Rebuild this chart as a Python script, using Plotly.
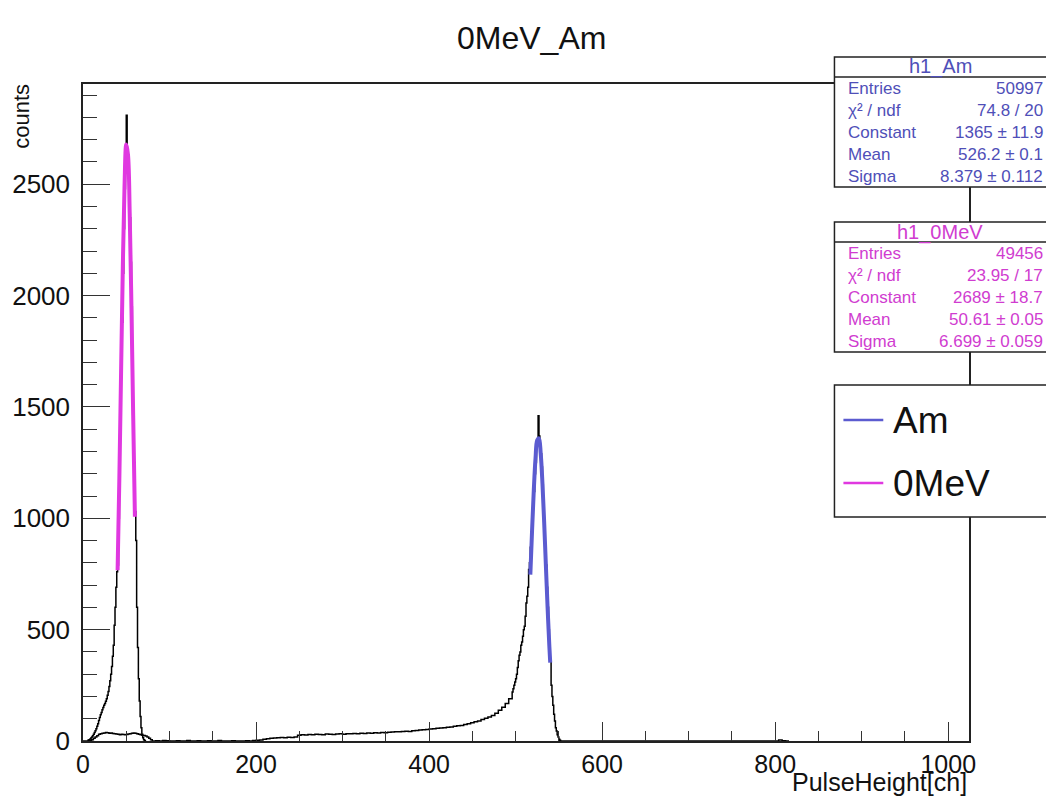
import plotly.graph_objects as go

# ---------------- data ----------------
# h1_0MeV histogram: 1-channel bins starting at channel 5
mev_start = 5
mev_width = 1
mev_counts = [2, 4, 6, 9, 13, 18, 24, 30, 38, 46, 55, 66, 78, 92, 106, 118, 128, 140,
              150, 160, 168, 178, 190, 205, 222, 245, 270, 300, 335, 380, 430, 520, 600,
              690, 760, 790, 1000, 1150, 1400, 1650, 1880, 2100, 2300, 2480, 2620, 2810,
              2650, 2600, 2480, 2350, 2150, 1950, 1700, 1450, 1250, 1030, 900, 600, 420,
              280, 180, 110, 60, 30, 15, 6, 2, 0]

# h1_Am histogram, in segments (start channel, bin width, counts)
am_low_start, am_low_width = 0, 2
am_low = [0, 0, 0, 0, 2, 6, 12, 18, 24, 30, 33, 35, 36, 38, 37, 35, 36, 34, 32, 31,
          30, 28, 30, 29, 28, 29, 31, 33, 35, 36, 35, 33, 30, 28, 26, 25, 22, 18, 12, 6]
am_mid_start, am_mid_width = 80, 4
am_mid = [0, 1, 0, 2, 1, 0, 0, 1, 0, 0, 2, 0, 0, 1, 0, 0, 1, 0, 0, 2, 0, 0, 0, 1, 0,
          0, 0, 1, 0, 2, 3]
am_tail_start, am_tail_width = 204, 4
am_tail = [5, 8, 10, 12, 14, 15, 16, 15, 17, 16, 18, 26, 28, 27, 29, 28, 30, 29, 28, 31,
           30, 29, 31, 32, 30, 33, 32, 34, 33, 35, 34, 36, 35, 37, 36, 38, 37, 39, 40, 42,
           41, 43, 44, 43, 46, 47, 49, 50, 52, 54, 55, 57, 58, 60, 62, 63, 66, 68, 70, 74,
           78, 82, 86, 90, 96, 102, 108, 115, 125, 138, 152, 168, 190]
am_peak_start, am_peak_width = 496, 1
am_peak = [220, 235, 250, 265, 280, 300, 330, 360, 385, 400, 430, 445, 470, 500, 515,
           560, 620, 650, 690, 770, 800, 870, 940, 1000, 1060, 1120, 1200, 1250, 1310,
           1350, 1460, 1370, 1330, 1290, 1230, 1150, 1060, 980, 880, 790, 690, 600, 500,
           420, 360, 250, 200, 160, 120, 90, 60, 45, 28, 18, 8, 3, 0]
am_far_start, am_far_width = 796, 4
am_far = [0, 0, 4, 1, 0]

# Gaussian fit curves as drawn
fit_mev_x = [40, 42, 44, 46, 48, 50, 52, 54, 56, 58, 60]
fit_mev_y = [767, 1177, 1653, 2122, 2492, 2678, 2632, 2366, 1946, 1463, 1007]
fit_am_x = [517, 519, 521, 523, 525, 527, 529, 531, 533, 535, 537, 539, 540]
fit_am_y = [747, 944, 1126, 1269, 1351, 1359, 1291, 1158, 982, 786, 595, 425, 352]

# stats boxes
am_stats_title = "h1_Am"
am_stats_labels = ["Entries", "χ² / ndf", "Constant", "Mean", "Sigma"]
am_stats_values = ["50997", "74.8 / 20", "1365 ± 11.9", "526.2 ± 0.1", "8.379 ± 0.112"]
mev_stats_title = "h1_0MeV"
mev_stats_labels = ["Entries", "χ² / ndf", "Constant", "Mean", "Sigma"]
mev_stats_values = ["49456", "23.95 / 17", "2689 ± 18.7", "50.61 ± 0.05", "6.699 ± 0.059"]

legend_labels = ["Am", "0MeV"]

x_ticks = [0, 200, 400, 600, 800, 1000]
y_ticks = [0, 500, 1000, 1500, 2000, 2500]

# ---------------- styling ----------------
BLUE = "#5b5bd0"
BLUE_TXT = "#4f4fb8"
MAG = "#e038e0"
MAG_TXT = "#d03cd0"
FONT = "Liberation Sans, Arial, sans-serif"

W, H = 1046, 798
L, R, T, B = 80, 969, 84, 741


def px(x):
    return (x - L) / (R - L)


def py(y):
    return (B - y) / (B - T)


def steps(segments):
    xs, ys = [], []
    for start, width, counts in segments:
        for i, c in enumerate(counts):
            xs.append(start + i * width)
            ys.append(c)
    last = segments[-1]
    xs.append(last[0] + len(last[2]) * last[1])
    ys.append(last[2][-1])
    return xs, ys


mev_x, mev_y = steps([(mev_start, mev_width, mev_counts)])
am_x, am_y = steps([
    (am_low_start, am_low_width, am_low),
    (am_mid_start, am_mid_width, am_mid),
    (am_tail_start, am_tail_width, am_tail),
    (am_peak_start, am_peak_width, am_peak),
    (553, 243, [0]),
    (am_far_start, am_far_width, am_far),
])

fig = go.Figure()
fig.add_trace(go.Scatter(x=am_x, y=am_y, mode="lines", line=dict(color="black", width=1.5, shape="hv"),
                         showlegend=False, hoverinfo="skip"))
fig.add_trace(go.Scatter(x=mev_x, y=mev_y, mode="lines", line=dict(color="black", width=1.5, shape="hv"),
                         showlegend=False, hoverinfo="skip"))
fig.add_trace(go.Scatter(x=fit_am_x, y=fit_am_y, mode="lines",
                         line=dict(color=BLUE, width=4, shape="spline"), showlegend=False))
fig.add_trace(go.Scatter(x=fit_mev_x, y=fit_mev_y, mode="lines",
                         line=dict(color=MAG, width=4, shape="spline"), showlegend=False))

axis_common = dict(showgrid=False, zeroline=False, showline=True, linecolor="#222",
                   linewidth=1.5, mirror=True, ticks="inside", tickcolor="#333")
fig.update_xaxes(range=[0, 1024], tickvals=x_ticks, ticklen=19, tickwidth=1.3,
                 tickfont=dict(family=FONT, size=25, color="#111"),
                 minor=dict(ticks="inside", ticklen=10, dtick=50, tick0=0, tickcolor="#333",
                            tickwidth=1.2), **axis_common)
fig.update_yaxes(range=[0, 2950], tickvals=y_ticks, ticklen=27, tickwidth=1.3,
                 ticklabelstandoff=6, tickfont=dict(family=FONT, size=26, color="#111"),
                 minor=dict(ticks="inside", ticklen=14, dtick=100, tick0=0, tickcolor="#333",
                            tickwidth=1.2), **axis_common)

shapes = []
annotations = []

# title and axis titles
annotations.append(dict(text="0MeV_Am", x=px(530), y=py(38), xref="paper", yref="paper",
                        showarrow=False, font=dict(family=FONT, size=32, color="#111"),
                        xanchor="center", yanchor="middle"))
annotations.append(dict(text="PulseHeight[ch]", x=px(969), y=py(798), xref="paper", yref="paper",
                        showarrow=False, font=dict(family=FONT, size=25, color="#111"),
                        xanchor="right", yanchor="bottom"))
annotations.append(dict(text="counts", x=px(18), y=py(82), xref="paper", yref="paper",
                        showarrow=False, textangle=-90, font=dict(family=FONT, size=22, color="#111"),
                        xanchor="center", yanchor="top"))


def stats_box(top, bottom, sep, title, labels, values, color):
    shapes.append(dict(type="rect", xref="paper", yref="paper", x0=px(834), x1=px(1052),
                       y0=py(bottom), y1=py(top), fillcolor="white",
                       line=dict(color="#222", width=1.5), layer="above"))
    shapes.append(dict(type="line", xref="paper", yref="paper", x0=px(834), x1=px(1052),
                       y0=py(sep), y1=py(sep), line=dict(color="#222", width=1.5), layer="above"))
    annotations.append(dict(text=title, x=px(940), y=py((top + sep) / 2), xref="paper",
                            yref="paper", showarrow=False, xanchor="center", yanchor="middle",
                            font=dict(family=FONT, size=20, color=color)))
    n = len(labels)
    step = (bottom - sep) / n
    for i, (lab, val) in enumerate(zip(labels, values)):
        yy = sep + step * (i + 0.5)
        annotations.append(dict(text=lab, x=px(846), y=py(yy), xref="paper", yref="paper",
                                showarrow=False, xanchor="left", yanchor="middle",
                                font=dict(family=FONT, size=17, color=color)))
        annotations.append(dict(text=val, x=px(1045), y=py(yy), xref="paper", yref="paper",
                                showarrow=False, xanchor="right", yanchor="middle",
                                font=dict(family=FONT, size=17, color=color)))


stats_box(57, 187, 77, am_stats_title, am_stats_labels, am_stats_values, BLUE_TXT)
stats_box(222, 352, 242, mev_stats_title, mev_stats_labels, mev_stats_values, MAG_TXT)

# legend box
shapes.append(dict(type="rect", xref="paper", yref="paper", x0=px(834), x1=px(1052),
                   y0=py(517), y1=py(385), fillcolor="white",
                   line=dict(color="#222", width=1.5), layer="above"))
for lab, col, yy in zip(legend_labels, [BLUE, MAG], [420, 483]):
    shapes.append(dict(type="line", xref="paper", yref="paper", x0=px(843), x1=px(883),
                       y0=py(yy), y1=py(yy), line=dict(color=col, width=2.5), layer="above"))
    annotations.append(dict(text=lab, x=px(891), y=py(yy), xref="paper", yref="paper",
                            showarrow=False, xanchor="left", yanchor="middle",
                            font=dict(family=FONT, size=37, color="#111")))

fig.update_layout(width=W, height=H, autosize=False,
                  margin=dict(l=L, r=W - R, t=T, b=H - B, pad=0),
                  paper_bgcolor="white", plot_bgcolor="white",
                  shapes=shapes, annotations=annotations, showlegend=False)

fig.write_html("out.html", config={"displayModeBar": False},
               post_script="document.body.style.margin='0';document.body.style.overflow='hidden';")
